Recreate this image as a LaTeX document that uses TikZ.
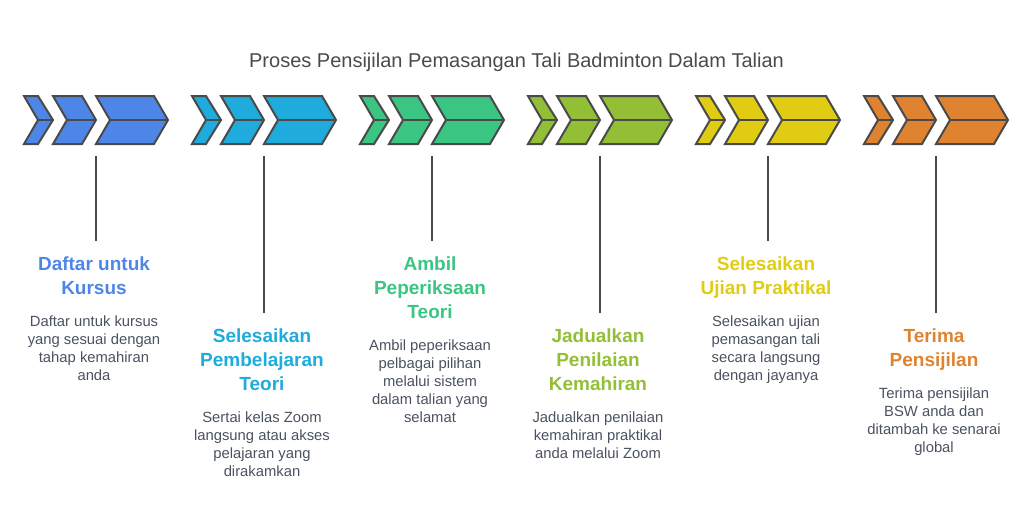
\documentclass[tikz,border=0pt]{standalone}
\usepackage{fontspec}
\setmainfont{Liberation Sans}
\usepackage{xcolor}
\usetikzlibrary{positioning}
\definecolor{stepblue}{HTML}{4E86E8}
\definecolor{stepcyan}{HTML}{1FABDC}
\definecolor{stepgreen}{HTML}{3BC582}
\definecolor{stepolive}{HTML}{93BF37}
\definecolor{stepyellow}{HTML}{E1CC14}
\definecolor{steporange}{HTML}{DF8330}
\definecolor{edgegrey}{HTML}{4A4A4A}
\definecolor{bodygrey}{HTML}{4A5260}
\tikzset{
  arrowshape/.style={draw=edgegrey, line width=2pt, line join=miter},
  stemline/.style={edgegrey, line width=2pt},
  headtext/.style={inner xsep=0pt, inner ysep=15.5pt, align=center, anchor=north, font=\bfseries\fontsize{19}{24}\selectfont, execute at begin node=\strut},
  bodytext/.style={inner sep=0pt, align=center, text=bodygrey, font=\fontsize{14.8}{18}\selectfont, execute at begin node=\strut},
}
\begin{document}
\begin{tikzpicture}[x=1pt, y=-1pt]
	\useasboundingbox (0, 0) rectangle (1032, 528);
	\node (title) [text=edgegrey, font=\fontsize{20}{24}\selectfont] at (516.5, 62) {Proses Pensijilan Pemasangan Tali Badminton Dalam Talian};
	\foreach \i/\x/\clr/\foot/\headtxt/\bodytxt in {
		1/24/stepblue/241/{Daftar untuk\\Kursus}/{Daftar untuk kursus\\yang sesuai dengan\\tahap kemahiran\\anda},
		2/192/stepcyan/313/{Selesaikan\\Pembelajaran\\Teori}/{Sertai kelas Zoom\\langsung atau akses\\pelajaran yang\\dirakamkan},
		3/360/stepgreen/241/{Ambil\\Peperiksaan\\Teori}/{Ambil peperiksaan\\pelbagai pilihan\\melalui sistem\\dalam talian yang\\selamat},
		4/528/stepolive/313/{Jadualkan\\Penilaian\\Kemahiran}/{Jadualkan penilaian\\kemahiran praktikal\\anda melalui Zoom},
		5/696/stepyellow/241/{Selesaikan\\Ujian Praktikal}/{Selesaikan ujian\\pemasangan tali\\secara langsung\\dengan jayanya},
		6/864/steporange/313/{Terima\\Pensijilan}/{Terima pensijilan\\BSW anda dan\\ditambah ke senarai\\global}} {
		% three arrows with a line through the middle
		\begin{scope}[shift={(\x, 0)}]
			\filldraw[arrowshape, fill=\clr] (0, 96)--(14, 96)--(29, 120)--(14, 144)--(0, 144)--(14, 120)--cycle;
			\filldraw[arrowshape, fill=\clr] (29, 96)--(58, 96)--(72, 120)--(58, 144)--(29, 144)--(43, 120)--cycle;
			\filldraw[arrowshape, fill=\clr] (72, 96)--(130, 96)--(144, 120)--(130, 144)--(72, 144)--(86, 120)--cycle;
			\draw[arrowshape] (14, 120)--(29, 120);
			\draw[arrowshape] (43, 120)--(72, 120);
			\draw[arrowshape] (86, 120)--(144, 120);
			\coordinate (top\i) at (72, 156);
		\end{scope}
		\node (head\i) [headtext, text=\clr] at (\x + 70, \foot) {\headtxt};
		\node (body\i) [bodytext, below=-1.6pt of head\i] {\bodytxt};
		\draw[stemline] (top\i)--(top\i |- head\i.north);
	}
\end{tikzpicture}
\end{document}
